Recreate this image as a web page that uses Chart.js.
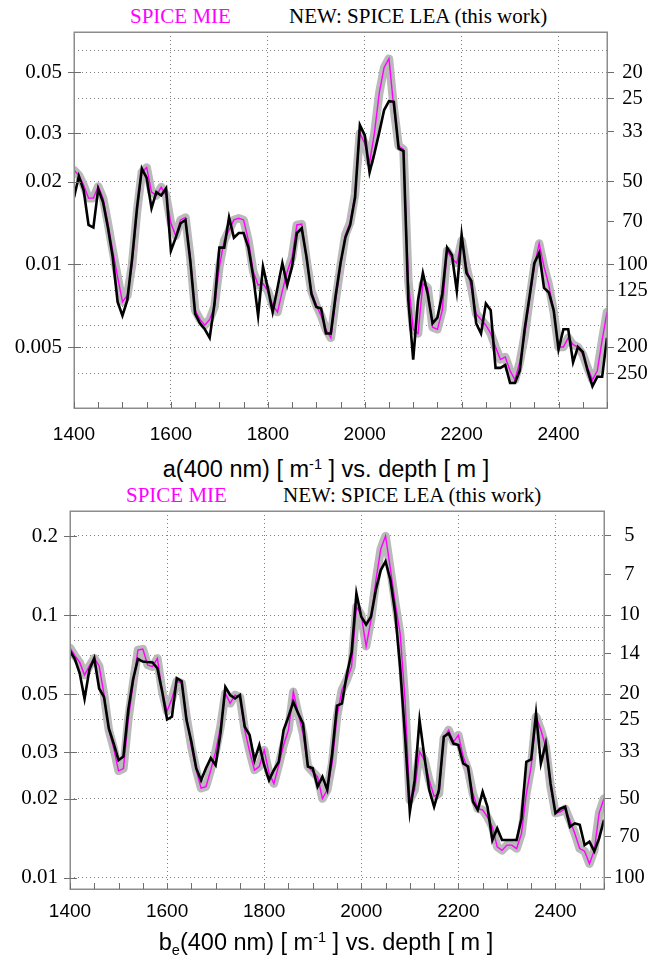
<!DOCTYPE html>
<html>
<head>
<meta charset="utf-8">
<title>Absorption and effective scattering at 400 nm vs. depth</title>
<script src="https://cdn.jsdelivr.net/npm/chart.js@4.4.1/dist/chart.umd.min.js"></script>
<style>
  html, body { margin: 0; padding: 0; background: #fff; }
  #page { position: relative; width: 650px; height: 967px; overflow: hidden; background: #fff; }
  .panel { position: absolute; left: 0; }
  .legend { position: absolute; font-family: "Liberation Serif", "Times New Roman", serif; font-size: 21px; line-height: 21px; white-space: nowrap; }
  .axis-title { position: absolute; left: 0; width: 652px; text-align: center; font-family: "Liberation Sans", Arial, sans-serif; font-size: 23.5px; line-height: 24px; white-space: nowrap; color: #000; }
  .axis-title sup { font-size: 0.62em; position: relative; top: -0.55em; vertical-align: baseline; }
  .axis-title sub { font-size: 0.62em; position: relative; top: 0.35em; vertical-align: baseline; }
</style>
</head>
<body>
<div id="page">
  <div class="legend" style="left:130px; top:6px; color:#ff00ff;">SPICE MIE</div>
  <div class="legend" style="left:289px; top:6px; color:#000;">NEW: SPICE LEA (this work)</div>
  <div class="panel" style="top:0;"><canvas id="absChart" width="650" height="450"></canvas></div>
  <div class="axis-title" style="top:457px;">a(400 nm) [ m<sup>-1</sup> ] vs. depth [ m ]</div>

  <div class="legend" style="left:126px; top:485px; color:#ff00ff;">SPICE MIE</div>
  <div class="legend" style="left:283px; top:485px; color:#000;">NEW: SPICE LEA (this work)</div>
  <div class="panel" style="top:480px;"><canvas id="scatChart" width="650" height="450"></canvas></div>
  <div class="axis-title" style="top:930px;">b<sub>e</sub>(400 nm) [ m<sup>-1</sup> ] vs. depth [ m ]</div>
</div>

<script>
// Depth of each layer [m]
const depths = [
  1400, 1410, 1420, 1430, 1440, 1450, 1460, 1470, 1480, 1490,
  1500, 1510, 1520, 1530, 1540, 1550, 1560, 1570, 1580, 1590,
  1600, 1610, 1620, 1630, 1640, 1650, 1660, 1670, 1680, 1690,
  1700, 1710, 1720, 1730, 1740, 1750, 1760, 1770, 1780, 1790,
  1800, 1810, 1820, 1830, 1840, 1850, 1860, 1870, 1880, 1890,
  1900, 1910, 1920, 1930, 1940, 1950, 1960, 1970, 1980, 1990,
  2000, 2010, 2020, 2030, 2040, 2050, 2060, 2070, 2080, 2090,
  2100, 2110, 2120, 2130, 2140, 2150, 2160, 2170, 2180, 2190,
  2200, 2210, 2220, 2230, 2240, 2250, 2260, 2270, 2280, 2290,
  2300, 2310, 2320, 2330, 2340, 2350, 2360, 2370, 2380, 2390,
  2400, 2410, 2420, 2430, 2440, 2450, 2460, 2470, 2480, 2490,
  2500
];

// a(400 nm) [1/m], SPICE MIE
const absMie = [
  0.0220, 0.0211, 0.0194, 0.0174, 0.0174, 0.0192, 0.0174, 0.0141, 0.0112, 0.0090,
  0.0073, 0.0077, 0.0100, 0.0155, 0.0216, 0.0225, 0.0183, 0.0178, 0.0191, 0.0178,
  0.0141, 0.0127, 0.0145, 0.0148, 0.0106, 0.0068, 0.0063, 0.0060, 0.0063, 0.0070,
  0.0098, 0.0122, 0.0133, 0.0145, 0.0147, 0.0145, 0.0122, 0.0094, 0.0084, 0.0085,
  0.0080, 0.0071, 0.0067, 0.0080, 0.0094, 0.0106, 0.0139, 0.0140, 0.0103, 0.0080,
  0.0071, 0.0065, 0.0058, 0.0054, 0.0074, 0.0098, 0.0128, 0.0142, 0.0180, 0.0300,
  0.0275, 0.0235, 0.0300, 0.0420, 0.0520, 0.0560, 0.0370, 0.0270, 0.0262, 0.0087,
  0.0058, 0.0056, 0.0085, 0.0082, 0.0059, 0.0058, 0.0068, 0.0112, 0.0105, 0.0101,
  0.0122, 0.0098, 0.0082, 0.0066, 0.0063, 0.0060, 0.0056, 0.0050, 0.0045, 0.0046,
  0.0041, 0.0038, 0.0044, 0.0055, 0.0074, 0.0098, 0.0119, 0.0098, 0.0084, 0.0067,
  0.0050, 0.0050, 0.0054, 0.0051, 0.0050, 0.0047, 0.0042, 0.0038, 0.0041, 0.0053,
  0.0067
];

// a(400 nm) [1/m], SPICE LEA
const absLea = [
  0.0175, 0.0209, 0.0186, 0.0139, 0.0136, 0.0188, 0.0168, 0.0136, 0.0106, 0.0073,
  0.0065, 0.0074, 0.0105, 0.0160, 0.0223, 0.0206, 0.0160, 0.0183, 0.0178, 0.0189,
  0.0112, 0.0125, 0.0141, 0.0145, 0.0103, 0.0066, 0.0061, 0.0058, 0.0054, 0.0072,
  0.0115, 0.0115, 0.0148, 0.0125, 0.0130, 0.0130, 0.0115, 0.0090, 0.0065, 0.0098,
  0.0082, 0.0067, 0.0082, 0.0101, 0.0084, 0.0098, 0.0130, 0.0135, 0.0106, 0.0078,
  0.0070, 0.0069, 0.0056, 0.0056, 0.0077, 0.0101, 0.0125, 0.0139, 0.0175, 0.0321,
  0.0295, 0.0216, 0.0253, 0.0302, 0.0364, 0.0392, 0.0390, 0.0264, 0.0258, 0.0074,
  0.0045, 0.0074, 0.0093, 0.0078, 0.0061, 0.0064, 0.0078, 0.0115, 0.0108, 0.0080,
  0.0128, 0.0093, 0.0087, 0.0061, 0.0056, 0.0072, 0.0068, 0.0042, 0.0042, 0.0043,
  0.0037, 0.0037, 0.0041, 0.0058, 0.0076, 0.0101, 0.0110, 0.0082, 0.0079, 0.0068,
  0.0049, 0.0058, 0.0058, 0.0044, 0.0050, 0.0048, 0.0041, 0.0036, 0.0039, 0.0039,
  0.0054
];

// b_e(400 nm) [1/m], SPICE MIE
const scatMie = [
  0.0750, 0.0700, 0.0660, 0.0591, 0.0640, 0.0685, 0.0640, 0.0500, 0.0365, 0.0311,
  0.0255, 0.0260, 0.0398, 0.0548, 0.0736, 0.0742, 0.0645, 0.0636, 0.0684, 0.0510,
  0.0430, 0.0480, 0.0560, 0.0550, 0.0410, 0.0315, 0.0257, 0.0219, 0.0222, 0.0257,
  0.0302, 0.0375, 0.0503, 0.0461, 0.0496, 0.0488, 0.0365, 0.0302, 0.0257, 0.0265,
  0.0306, 0.0250, 0.0228, 0.0268, 0.0320, 0.0365, 0.0510, 0.0422, 0.0354, 0.0265,
  0.0253, 0.0242, 0.0200, 0.0216, 0.0272, 0.0410, 0.0518, 0.0566, 0.0636, 0.1076,
  0.1000, 0.0760, 0.0957, 0.1350, 0.1780, 0.2000, 0.1500, 0.1110, 0.0851, 0.0480,
  0.0197, 0.0216, 0.0302, 0.0281, 0.0235, 0.0204, 0.0209, 0.0339, 0.0365, 0.0329,
  0.0349, 0.0289, 0.0257, 0.0209, 0.0183, 0.0181, 0.0170, 0.0156, 0.0131, 0.0127,
  0.0133, 0.0133, 0.0129, 0.0147, 0.0209, 0.0265, 0.0410, 0.0365, 0.0315, 0.0222,
  0.0176, 0.0178, 0.0183, 0.0165, 0.0147, 0.0129, 0.0126, 0.0113, 0.0127, 0.0176,
  0.0200
];

// b_e(400 nm) [1/m], SPICE LEA
const scatLea = [
  0.0730, 0.0680, 0.0600, 0.0480, 0.0620, 0.0685, 0.0525, 0.0488, 0.0370, 0.0324,
  0.0280, 0.0289, 0.0435, 0.0570, 0.0680, 0.0665, 0.0662, 0.0660, 0.0627, 0.0510,
  0.0400, 0.0410, 0.0575, 0.0560, 0.0398, 0.0329, 0.0261, 0.0235, 0.0261, 0.0285,
  0.0268, 0.0354, 0.0532, 0.0496, 0.0481, 0.0496, 0.0375, 0.0349, 0.0280, 0.0320,
  0.0268, 0.0235, 0.0257, 0.0276, 0.0365, 0.0410, 0.0467, 0.0422, 0.0386, 0.0265,
  0.0261, 0.0222, 0.0242, 0.0216, 0.0297, 0.0452, 0.0460, 0.0590, 0.0720, 0.1210,
  0.0985, 0.0920, 0.0985, 0.1245, 0.1480, 0.1600, 0.1360, 0.1015, 0.0636, 0.0350,
  0.0178, 0.0235, 0.0398, 0.0289, 0.0216, 0.0186, 0.0216, 0.0344, 0.0354, 0.0324,
  0.0320, 0.0272, 0.0265, 0.0195, 0.0181, 0.0212, 0.0186, 0.0139, 0.0154, 0.0139,
  0.0139, 0.0139, 0.0139, 0.0168, 0.0276, 0.0282, 0.0422, 0.0272, 0.0324, 0.0228,
  0.0176, 0.0183, 0.0186, 0.0156, 0.0161, 0.0159, 0.0133, 0.0137, 0.0126, 0.0141,
  0.0166
];

// Depth axis: labelled ticks and minor tick spacing
const depthTickLabels = [1400, 1600, 1800, 2000, 2200, 2400];
const depthMin = 1400, depthMax = 2500, depthMinorStep = 50;

// Absorption panel: labelled values, dotted grid values, absorption lengths [m] on the right
const absLabelTicks = [0.005, 0.01, 0.02, 0.03, 0.05];
const absGridTicks = [0.004, 0.005, 0.006, 0.007, 0.008, 0.009, 0.01, 0.02, 0.03, 0.04, 0.05, 0.06];
const absLengthLabels = [20, 25, 33, 50, 70, 100, 125, 200, 250];

// Scattering panel: labelled values, dotted grid values, scattering lengths [m] on the right
const scatLabelTicks = [0.01, 0.02, 0.03, 0.05, 0.1, 0.2];
const scatGridTicks = [0.01, 0.02, 0.03, 0.04, 0.05, 0.06, 0.07, 0.08, 0.09, 0.1, 0.2];
const scatLengthLabels = [5, 7, 10, 14, 20, 25, 33, 50, 70, 100];

const depthMinorTicks = [];
for (let d = depthMin; d <= depthMax; d += depthMinorStep) depthMinorTicks.push(d);

const SERIF = '"Liberation Serif", "Times New Roman", serif';
const SANS = '"Liberation Sans", Arial, sans-serif';
const GRID = '#7f7f7f';
const FRAME = '#8c8c8c';

function pairs(values) {
  return depths.map((d, i) => ({ x: d, y: values[i] }));
}

// Frame around the plot area, inward depth ticks and the labelled left ticks
function frameAndTicks(labelTicks) {
  return {
    id: 'frameAndTicks',
    afterDraw(chart) {
      const { ctx, chartArea: a, scales } = chart;
      ctx.save();
      ctx.strokeStyle = FRAME;
      ctx.lineWidth = 1.5;
      ctx.strokeRect(Math.round(a.left) + 0.25, Math.round(a.top) + 0.25,
                     Math.round(a.right - a.left), Math.round(a.bottom - a.top));
      ctx.lineWidth = 1;
      ctx.beginPath();
      for (const d of depthMinorTicks) {
        const x = Math.round(scales.x.getPixelForValue(d)) + 0.5;
        ctx.moveTo(x, a.bottom);
        ctx.lineTo(x, a.bottom - 6);
      }
      for (const v of labelTicks) {
        const y = Math.round(scales.y.getPixelForValue(v)) + 0.5;
        ctx.moveTo(a.left - 6, y);
        ctx.lineTo(a.left + 7, y);
      }
      ctx.strokeStyle = '#6e6e6e';
      ctx.stroke();
      ctx.restore();
    }
  };
}

function makePanel(id, p) {
  return new Chart(document.getElementById(id), {
    type: 'line',
    data: {
      datasets: [
        { label: 'NEW: SPICE LEA (this work)', data: pairs(p.lea), borderColor: '#000000',
          borderWidth: 2.6, pointRadius: 0, tension: 0, fill: false, order: 0 },
        { label: 'SPICE MIE', data: pairs(p.mie), borderColor: '#ff00ff',
          borderWidth: 1.4, pointRadius: 0, tension: 0, fill: false, order: 1 },
        { label: 'SPICE MIE band', data: pairs(p.mie), borderColor: '#bababa',
          borderWidth: 8.5, borderJoinStyle: 'round', borderCapStyle: 'round',
          pointRadius: 0, tension: 0, fill: false, order: 2 }
      ]
    },
    options: {
      responsive: false,
      animation: false,
      events: [],
      devicePixelRatio: 1,
      layout: { padding: { top: p.top, left: 0, right: 0, bottom: 0 } },
      plugins: { legend: { display: false }, tooltip: { enabled: false }, title: { display: false } },
      scales: {
        x: {
          type: 'linear', position: 'bottom', min: depthMin, max: depthMax,
          afterBuildTicks: s => { s.ticks = depthMinorTicks.map(v => ({ value: v })); },
          afterFit: s => { s.height = p.xHeight; },
          ticks: {
            autoSkip: false, maxRotation: 0, minRotation: 0, padding: p.xPad, color: '#000',
            font: { family: SANS, size: 19 },
            callback: v => depthTickLabels.includes(v) ? String(v) : ''
          },
          grid: {
            drawTicks: false, lineWidth: 1,
            color: c => (c.tick && depthTickLabels.includes(c.tick.value) && c.tick.value !== depthMin) ? GRID : 'rgba(0,0,0,0)'
          },
          border: { display: false, dash: [1, 3] }
        },
        y: {
          type: 'logarithmic', position: 'left', min: p.yMin, max: p.yMax,
          afterBuildTicks: s => { s.ticks = p.gridTicks.map(v => ({ value: v })); },
          afterFit: s => { s.width = p.left; },
          ticks: {
            autoSkip: false, padding: 12, color: '#000',
            font: { family: SERIF, size: 21 },
            callback: v => p.labelTicks.includes(v) ? String(v) : ''
          },
          grid: { drawTicks: false, lineWidth: 1, color: GRID },
          border: { display: false, dash: [1, 3] }
        },
        y2: {
          type: 'logarithmic', position: 'right', min: p.yMin, max: p.yMax,
          afterBuildTicks: s => { s.ticks = p.lengths.map(L => ({ value: 1 / L })); },
          afterFit: s => { s.width = p.right; },
          ticks: {
            autoSkip: false, padding: 3, crossAlign: 'center', color: '#000',
            font: { family: SERIF, size: 20.5 },
            callback: (v, i) => String(p.lengths[i])
          },
          grid: { drawOnChartArea: false, drawTicks: true, tickLength: 7, tickWidth: 1, tickColor: '#6e6e6e' },
          border: { display: false }
        }
      }
    },
    plugins: [frameAndTicks(p.labelTicks)]
  });
}

makePanel('absChart', {
  mie: absMie, lea: absLea,
  yMin: 0.003, yMax: 0.07,
  gridTicks: absGridTicks, labelTicks: absLabelTicks, lengths: absLengthLabels,
  top: 32, left: 74, right: 43, xHeight: 42, xPad: 15
});

makePanel('scatChart', {
  mie: scatMie, lea: scatLea,
  yMin: 0.00905, yMax: 0.249,
  gridTicks: scatGridTicks, labelTicks: scatLabelTicks, lengths: scatLengthLabels,
  top: 31, left: 70, right: 46, xHeight: 41, xPad: 11
});
</script>
</body>
</html>
